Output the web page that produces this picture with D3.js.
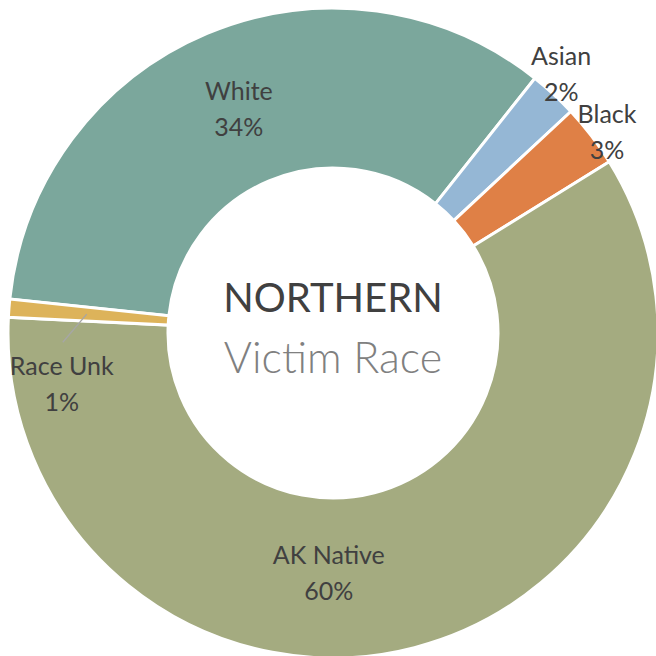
<!DOCTYPE html>
<html>
<head>
<meta charset="utf-8">
<script src="https://cdn.jsdelivr.net/npm/d3@7"></script>
<style>
  html, body { margin: 0; padding: 0; background: #fff; }
  svg { display: block; }
</style>
</head>
<body>
<svg id="chart" width="656" height="656"></svg>
<script>
// ---- data ----
const categories = ["White", "Asian", "Black", "AK Native", "Race Unk"];
const values = [34.0, 2.4, 3.1, 59.6, 0.9];
const colors = ["#7BA79C", "#95B7D5", "#DF8046", "#A4AB80", "#DDB35A"];
const titleText = "NORTHERN";
const subtitleText = "Victim Race";

// ---- layout ----
const W = 656, H = 656;
const cx = 333, cy = 333;
const outerR = 325, innerR = 165;
const rotation = -84 * Math.PI / 180; // first slice starts here (clockwise)
// label placement per category: [angle deg clockwise from top, radius]
const labelPos = {
  "White": [337.2, 243],
  "Asian": [41.4, 345],
  "Black": [53.7, 340],
  "AK Native": [181, 240],
  "Race Unk": [259.3, 276]
};

const svg = d3.select("#chart");
const g = svg.append("g").attr("transform", `translate(${cx},${cy})`);

const data = categories.map((c, i) => ({ cat: c, value: values[i], color: colors[i] }));
const total = d3.sum(values);

const pie = d3.pie().sort(null).value(d => d.value)
  .startAngle(rotation).endAngle(rotation + 2 * Math.PI);
const arc = d3.arc().innerRadius(innerR).outerRadius(outerR);
const arcs = pie(data);

g.selectAll("path.slice").data(arcs).join("path")
  .attr("class", "slice")
  .attr("d", arc)
  .attr("fill", d => d.data.color)
  .attr("stroke", "#fff")
  .attr("stroke-width", 3)
  .attr("stroke-linejoin", "miter");

const font = "Lato, 'Open Sans', sans-serif";
const polar = (deg, r) => {
  const a = deg * Math.PI / 180;
  return [r * Math.sin(a), -r * Math.cos(a)];
};

// leader line for Race Unk
const unk = arcs.find(d => d.data.cat === "Race Unk");
{
  const mid = (unk.startAngle + unk.endAngle) / 2;
  const r1 = outerR - 78;
  const p1 = [r1 * Math.sin(mid), -r1 * Math.cos(mid)];
  const [lx, ly] = polar(labelPos["Race Unk"][0], labelPos["Race Unk"][1]);
  const p2 = [lx + 1, ly - 42];
  g.append("line")
    .attr("x1", p1[0]).attr("y1", p1[1])
    .attr("x2", p2[0]).attr("y2", p2[1])
    .attr("stroke", "#A6A6A6").attr("stroke-width", 1.3);
}

const labels = g.selectAll("g.lbl").data(arcs).join("g")
  .attr("class", "lbl")
  .attr("transform", d => {
    const [x, y] = polar(labelPos[d.data.cat][0], labelPos[d.data.cat][1]);
    return `translate(${x},${y})`;
  });
labels.append("text")
  .attr("text-anchor", "middle")
  .attr("y", -9)
  .attr("font-family", font)
  .attr("font-size", 25)
  .attr("fill", "#404040")
  .text(d => d.data.cat);
labels.append("text")
  .attr("text-anchor", "middle")
  .attr("y", 27)
  .attr("font-family", font)
  .attr("font-size", 25)
  .attr("fill", "#404040")
  .text(d => Math.round(d.data.value / total * 100) + "%");

// center text
g.append("text")
  .attr("text-anchor", "middle")
  .attr("y", -21)
  .attr("font-family", font)
  .attr("font-size", 40)
  .attr("fill", "#404040")
  .text(titleText);
g.append("text")
  .attr("text-anchor", "middle")
  .attr("y", 40)
  .attr("font-family", font)
  .attr("font-weight", 300)
  .attr("font-size", 43)
  .attr("fill", "#808080")
  .text(subtitleText);
</script>
</body>
</html>
